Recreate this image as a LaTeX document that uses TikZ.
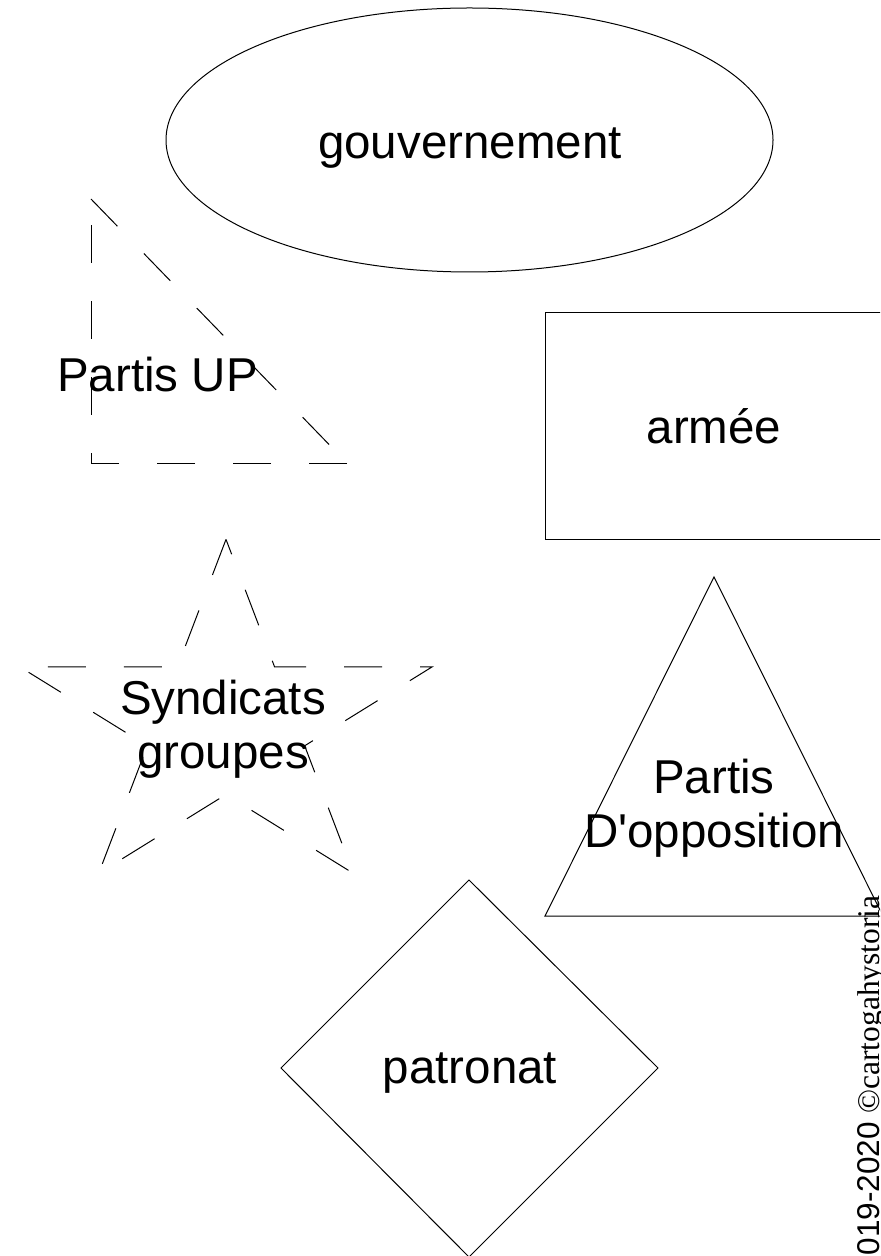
\documentclass[tikz,border=0pt]{standalone}
\usepackage{fontspec}
\setmainfont{Liberation Sans}
\newfontfamily\markfont{Liberation Serif}
\tikzset{
    shapeline/.style={line width=0.5pt},
    dashline/.style={line width=0.5pt, dash pattern=on 19pt off 19pt},
    lbl/.style={font=\fontsize{23.75}{26.75}\selectfont, align=center, inner sep=0pt, anchor=base}
}
\begin{document}
\begin{tikzpicture}[x=0.5pt, y=-0.5pt]
        \useasboundingbox (0,0) rectangle (880,1256);
        \clip (0,0) rectangle (880,1256);

        \draw[shapeline] (469.5,140) ellipse (303.5 and 132);
        \draw[shapeline] (545,313) rectangle (883,539);
        \draw[shapeline] (714,577) -- (883,916) -- (545,916) -- cycle;
        \draw[shapeline] (469,880) -- (658,1068) -- (469,1257) -- (281,1068) -- cycle;

        \draw[dashline] (91,199) -- (347,463);
        \draw[dashline] (347,463) -- (91,463) -- (91,199);

        \begin{scope}[shift={(226,724)}]
            \draw[dashline] (-90:216.6 and 184.6)
                \foreach \k [evaluate=\k as \rx using {mod(\k,2)==0 ? 216.6 : 82.7},
                             evaluate=\k as \ry using {mod(\k,2)==0 ? 184.6 : 70.5}] in {1,...,9} {
                    -- ({-90-36*\k}:{\rx} and {\ry})
                } -- cycle;
        \end{scope}

        \node[lbl] (gouvernement) at (470,159) {gouvernement};
        \node[lbl] (armee) at (714,444) {armée};
        \node[lbl] (partisup) at (157.5,392) {Partis UP};
        \node[lbl] (syndicats) at (223,768) {Syndicats\\groupes};
        \node[lbl] (opposition) at (714,847) {Partis~\\D\textquotesingle opposition};
        \node[lbl] (patronat) at (470,1083) {patronat};
        \node[font=\fontsize{15.75}{18}\selectfont, rotate=90, anchor=base east, inner sep=0pt] (credit)
            at (879,895) {019-2020 {\markfont ©cartogahystoria}};
\end{tikzpicture}
\end{document}
